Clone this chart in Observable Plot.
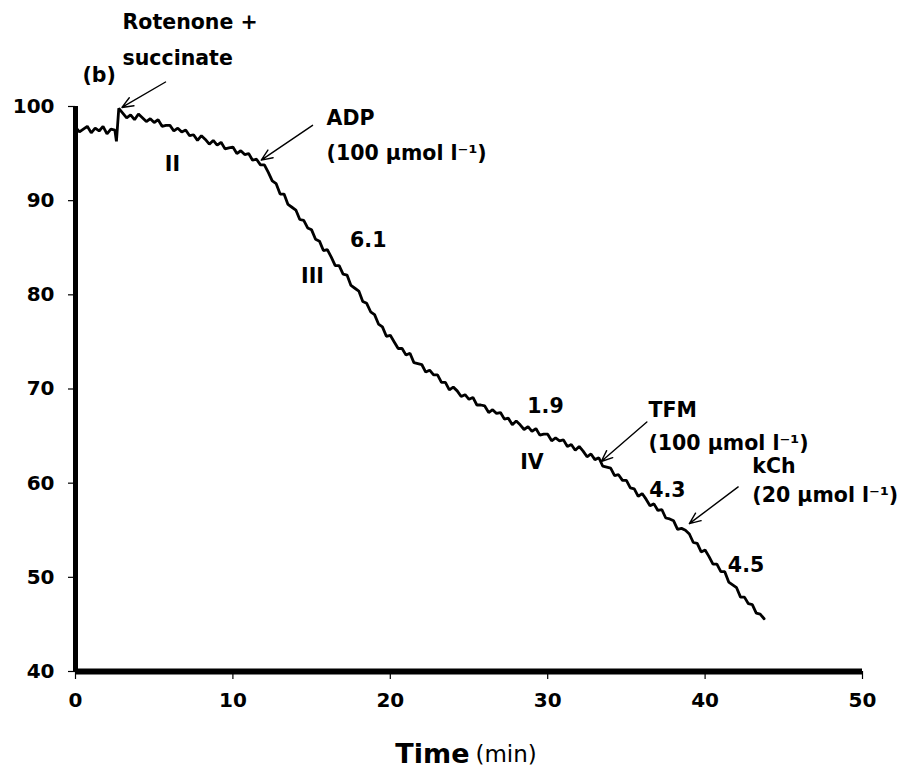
<!DOCTYPE html>
<html>
<head>
<meta charset="utf-8">
<script src="https://cdn.jsdelivr.net/npm/d3@7"></script>
<script src="https://cdn.jsdelivr.net/npm/@observablehq/plot@0.6"></script>
<style>
  html, body { margin: 0; padding: 0; background: #fff; }
  #chart svg { display: block; }
</style>
</head>
<body>
<div id="chart"></div>
<script>
// Time (min)
const times = [
  0,0.25,0.5,0.75, 1,1.25,1.5,1.75, 2,2.25,2.5,2.6,2.75,
  3,3.25,3.5,3.75, 4,4.25,4.5,4.75, 5,5.25,5.5,5.75, 6,6.25,6.5,6.75,
  7,7.25,7.5,7.75, 8,8.25,8.5,8.75, 9,9.25,9.5,9.75, 10,10.25,10.5,10.75,
  11,11.25,11.5,11.75, 12,12.25,12.5,12.75, 13,13.25,13.5,13.75, 14,14.25,14.5,14.75,
  15,15.25,15.5,15.75, 16,16.25,16.5,16.75, 17,17.25,17.5,17.75, 18,18.25,18.5,18.75,
  19,19.25,19.5,19.75, 20,20.25,20.5,20.75, 21,21.25,21.5,21.75, 22,22.25,22.5,22.75,
  23,23.25,23.5,23.75, 24,24.25,24.5,24.75, 25,25.25,25.5,25.75, 26,26.25,26.5,26.75,
  27,27.25,27.5,27.75, 28,28.25,28.5,28.75, 29,29.25,29.5,29.75, 30,30.25,30.5,30.75,
  31,31.25,31.5,31.75, 32,32.25,32.5,32.75, 33,33.25,33.5,33.75, 34,34.25,34.5,34.75,
  35,35.25,35.5,35.75, 36,36.25,36.5,36.75, 37,37.25,37.5,37.75, 38,38.25,38.5,38.75,
  39,39.25,39.5,39.75, 40,40.25,40.5,40.75, 41,41.25,41.5,41.75, 42,42.25,42.5,42.75,
  43,43.25,43.5,43.75
];
const signal = [
  97.8,97.3,97.6,97.9, 97.2,97.7,97.4,97.9, 97.1,97.6,97.5,96.3,99.8,
  99.3,98.8,99.1,98.6, 99.2,98.8,98.4,98.7, 98.3,98.6,97.9,98.0, 98.0,97.4,97.7,97.3,
  97.5,96.9,97.0,96.4, 96.9,96.5,96.0,96.4, 95.9,96.2,95.5,95.6, 95.7,95.0,95.3,94.9,
  95.0,94.3,94.4,93.8, 93.8,93.0,92.1,91.8, 90.7,90.7,89.6,89.3, 89.0,88.0,87.9,87.1,
  86.9,85.9,85.7,84.7, 84.8,84.0,83.1,83.1, 82.2,82.1,81.0,80.7, 80.4,79.3,79.1,78.2,
  77.9,76.9,76.6,75.6, 75.7,75.0,74.3,74.3, 73.6,73.8,72.8,72.7, 72.6,71.8,72.0,71.5,
  71.5,70.7,70.7,69.9, 70.2,69.8,69.2,69.4, 68.9,69.1,68.3,68.3, 68.2,67.5,67.8,67.4,
  67.5,66.8,66.9,66.2, 66.6,66.2,65.7,66.0, 65.5,65.8,65.1,65.2, 65.2,64.5,64.8,64.5,
  64.6,63.9,64.1,63.5, 63.9,63.4,62.8,63.1, 62.5,62.7,61.8,61.7, 61.6,60.8,60.9,60.3,
  60.3,59.5,59.4,58.6, 58.9,58.3,57.6,57.8, 57.1,57.2,56.3,56.2, 56.0,55.1,55.2,55.0,
  54.6,53.7,53.6,52.7, 52.9,52.2,51.4,51.4, 50.6,50.6,49.5,49.2, 48.9,47.9,47.9,47.2,
  47.1,46.2,46.1,45.6
];
const xTicks = [0, 10, 20, 30, 40, 50];
const yTicks = [40, 50, 60, 70, 80, 90, 100];

// Annotations (in data units)
const annText   = ["(b)", "Rotenone +", "succinate", "ADP", "(100 µmol l⁻¹)", "II", "6.1", "III", "1.9", "IV", "TFM", "(100 µmol l⁻¹)", "4.3", "kCh", "(20 µmol l⁻¹)", "4.5"];
const annX      = [0.44, 2.99, 2.99, 15.95, 15.95, 6.16, 18.6, 15.06, 29.86, 29.0, 36.4, 36.4, 37.6, 43.0, 43.0, 42.6];
const annY      = [103.3, 108.9, 105.1, 98.7, 95.0, 93.9, 85.8, 82.0, 68.1, 62.2, 67.7, 64.2, 59.2, 61.8, 58.7, 51.3];
const annAnchor = ["start", "start", "start", "start", "start", "middle", "middle", "middle", "middle", "middle", "start", "start", "middle", "start", "start", "middle"];

// Arrows: tail (x1,y1) -> head (x2,y2)
const arrX1 = [5.72, 15.06, 36.3, 42.1];
const arrY1 = [102.6, 98.0, 66.5, 59.6];
const arrX2 = [2.95, 11.8, 33.4, 39.0];
const arrY2 = [99.9, 94.3, 62.3, 55.7];

const trace = times.map((t, i) => ({t, v: signal[i]}));
const notes = annText.map((s, i) => ({s, x: annX[i], y: annY[i], a: annAnchor[i]}));
const arrows = arrX1.map((d, i) => ({x1: d, y1: arrY1[i], x2: arrX2[i], y2: arrY2[i]}));

const FONT = "DejaVu Sans, Liberation Sans, sans-serif";

const chart = Plot.plot({
  width: 904,
  height: 778,
  marginLeft: 75,
  marginRight: 42,
  marginTop: 106,
  marginBottom: 107,
  style: {fontFamily: FONT, background: "#fff", color: "#000"},
  x: {domain: [0, 50]},
  y: {domain: [40, 100]},
  marks: [
    Plot.axisY({ticks: yTicks, tickSize: 7, tickPadding: 14, fontSize: 20, fontWeight: "bold", label: null, strokeWidth: 1.2}),
    Plot.axisX({ticks: xTicks, tickSize: 8, tickPadding: 13, fontSize: 20, fontWeight: "bold", label: null, strokeWidth: 1.2}),
    Plot.ruleX([0], {y1: 40, y2: 100, strokeWidth: 5, stroke: "#000"}),
    Plot.ruleY([40], {x1: 0, x2: 50, strokeWidth: 6, stroke: "#000"}),
    Plot.line(trace, {x: "t", y: "v", stroke: "#000", strokeWidth: 2.8, strokeLinejoin: "miter"}),
    Plot.arrow(arrows, {x1: "x1", y1: "y1", x2: "x2", y2: "y2", stroke: "#000", strokeWidth: 1.4, headLength: 13, headAngle: 45}),
    Plot.text(notes.filter(d => d.a === "start"), {x: "x", y: "y", text: "s", textAnchor: "start", fontSize: 20.5, fontWeight: "bold", fill: "#000"}),
    Plot.text(notes.filter(d => d.a === "middle"), {x: "x", y: "y", text: "s", textAnchor: "middle", fontSize: 20.5, fontWeight: "bold", fill: "#000"}),
    Plot.text(["Time"], {x: 25.03, y: 31.2, text: d => d, textAnchor: "end", fontSize: 27, fontWeight: "bold", fill: "#000"}),
    Plot.text(["(min)"], {x: 25.41, y: 31.2, text: d => d, textAnchor: "start", fontSize: 23, fontWeight: "normal", fill: "#000"})
  ]
});
document.getElementById("chart").appendChild(chart);
</script>
</body>
</html>
